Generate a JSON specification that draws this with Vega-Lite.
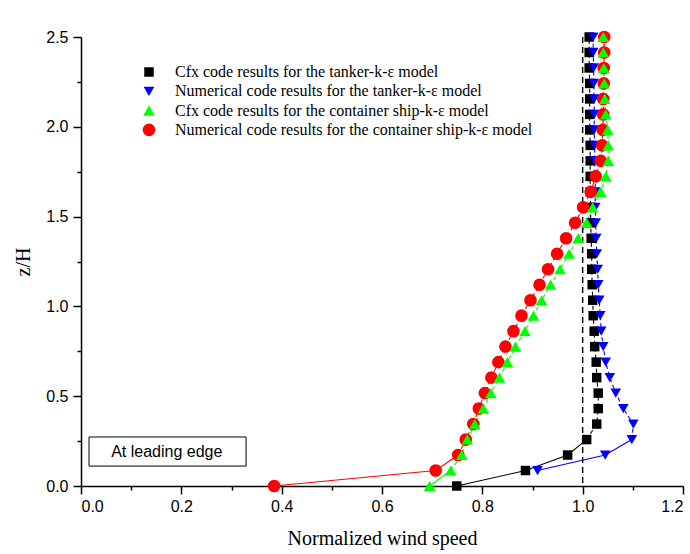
{
  "$schema": "https://vega.github.io/schema/vega-lite/v6.json",
  "width": 602,
  "height": 449,
  "autosize": {"type": "none"},
  "padding": {"left": 81, "top": 37, "right": 7, "bottom": 68},
  "background": "white",
  "config": {
    "view": {"stroke": null},
    "axis": {
      "grid": false,
      "domainColor": "black",
      "domainWidth": 1.5,
      "tickColor": "black",
      "tickWidth": 1.5,
      "labelFont": "Liberation Sans",
      "labelFontSize": 16,
      "labelColor": "black",
      "labelOverlap": false,
      "titleFont": "Liberation Serif",
      "titleFontSize": 20,
      "titleFontWeight": "normal",
      "titleColor": "black"
    }
  },
  "datasets": {
    "profiles": [
      {"series": "Cfx code results for the tanker-k-ε model", "z": 0, "speed": 0.749},
      {"series": "Cfx code results for the tanker-k-ε model", "z": 0.0862, "speed": 0.886},
      {"series": "Cfx code results for the tanker-k-ε model", "z": 0.1724, "speed": 0.970},
      {"series": "Cfx code results for the tanker-k-ε model", "z": 0.2586, "speed": 1.008},
      {"series": "Cfx code results for the tanker-k-ε model", "z": 0.3448, "speed": 1.028},
      {"series": "Cfx code results for the tanker-k-ε model", "z": 0.4310, "speed": 1.031},
      {"series": "Cfx code results for the tanker-k-ε model", "z": 0.5172, "speed": 1.031},
      {"series": "Cfx code results for the tanker-k-ε model", "z": 0.6034, "speed": 1.028},
      {"series": "Cfx code results for the tanker-k-ε model", "z": 0.6897, "speed": 1.027},
      {"series": "Cfx code results for the tanker-k-ε model", "z": 0.7759, "speed": 1.024},
      {"series": "Cfx code results for the tanker-k-ε model", "z": 0.8621, "speed": 1.023},
      {"series": "Cfx code results for the tanker-k-ε model", "z": 0.9483, "speed": 1.021},
      {"series": "Cfx code results for the tanker-k-ε model", "z": 1.0345, "speed": 1.020},
      {"series": "Cfx code results for the tanker-k-ε model", "z": 1.1207, "speed": 1.019},
      {"series": "Cfx code results for the tanker-k-ε model", "z": 1.2069, "speed": 1.018},
      {"series": "Cfx code results for the tanker-k-ε model", "z": 1.2931, "speed": 1.018},
      {"series": "Cfx code results for the tanker-k-ε model", "z": 1.3793, "speed": 1.017},
      {"series": "Cfx code results for the tanker-k-ε model", "z": 1.4655, "speed": 1.016},
      {"series": "Cfx code results for the tanker-k-ε model", "z": 1.5517, "speed": 1.016},
      {"series": "Cfx code results for the tanker-k-ε model", "z": 1.6379, "speed": 1.015},
      {"series": "Cfx code results for the tanker-k-ε model", "z": 1.7241, "speed": 1.015},
      {"series": "Cfx code results for the tanker-k-ε model", "z": 1.8103, "speed": 1.015},
      {"series": "Cfx code results for the tanker-k-ε model", "z": 1.8966, "speed": 1.015},
      {"series": "Cfx code results for the tanker-k-ε model", "z": 1.9828, "speed": 1.014},
      {"series": "Cfx code results for the tanker-k-ε model", "z": 2.0690, "speed": 1.014},
      {"series": "Cfx code results for the tanker-k-ε model", "z": 2.1552, "speed": 1.014},
      {"series": "Cfx code results for the tanker-k-ε model", "z": 2.2414, "speed": 1.014},
      {"series": "Cfx code results for the tanker-k-ε model", "z": 2.3276, "speed": 1.013},
      {"series": "Cfx code results for the tanker-k-ε model", "z": 2.4138, "speed": 1.013},
      {"series": "Cfx code results for the tanker-k-ε model", "z": 2.5, "speed": 1.013},
      {"series": "Numerical code results for the tanker-k-ε model", "z": 0.0862, "speed": 0.910},
      {"series": "Numerical code results for the tanker-k-ε model", "z": 0.1724, "speed": 1.045},
      {"series": "Numerical code results for the tanker-k-ε model", "z": 0.2586, "speed": 1.098},
      {"series": "Numerical code results for the tanker-k-ε model", "z": 0.3448, "speed": 1.101},
      {"series": "Numerical code results for the tanker-k-ε model", "z": 0.4310, "speed": 1.081},
      {"series": "Numerical code results for the tanker-k-ε model", "z": 0.5172, "speed": 1.066},
      {"series": "Numerical code results for the tanker-k-ε model", "z": 0.6034, "speed": 1.054},
      {"series": "Numerical code results for the tanker-k-ε model", "z": 0.6897, "speed": 1.046},
      {"series": "Numerical code results for the tanker-k-ε model", "z": 0.7759, "speed": 1.041},
      {"series": "Numerical code results for the tanker-k-ε model", "z": 0.8621, "speed": 1.037},
      {"series": "Numerical code results for the tanker-k-ε model", "z": 0.9483, "speed": 1.035},
      {"series": "Numerical code results for the tanker-k-ε model", "z": 1.0345, "speed": 1.033},
      {"series": "Numerical code results for the tanker-k-ε model", "z": 1.1207, "speed": 1.031},
      {"series": "Numerical code results for the tanker-k-ε model", "z": 1.2069, "speed": 1.030},
      {"series": "Numerical code results for the tanker-k-ε model", "z": 1.2931, "speed": 1.028},
      {"series": "Numerical code results for the tanker-k-ε model", "z": 1.3793, "speed": 1.027},
      {"series": "Numerical code results for the tanker-k-ε model", "z": 1.4655, "speed": 1.026},
      {"series": "Numerical code results for the tanker-k-ε model", "z": 1.5517, "speed": 1.025},
      {"series": "Numerical code results for the tanker-k-ε model", "z": 1.6379, "speed": 1.025},
      {"series": "Numerical code results for the tanker-k-ε model", "z": 1.7241, "speed": 1.025},
      {"series": "Numerical code results for the tanker-k-ε model", "z": 1.8103, "speed": 1.024},
      {"series": "Numerical code results for the tanker-k-ε model", "z": 1.8966, "speed": 1.024},
      {"series": "Numerical code results for the tanker-k-ε model", "z": 1.9828, "speed": 1.023},
      {"series": "Numerical code results for the tanker-k-ε model", "z": 2.0690, "speed": 1.023},
      {"series": "Numerical code results for the tanker-k-ε model", "z": 2.1552, "speed": 1.023},
      {"series": "Numerical code results for the tanker-k-ε model", "z": 2.2414, "speed": 1.022},
      {"series": "Numerical code results for the tanker-k-ε model", "z": 2.3276, "speed": 1.022},
      {"series": "Numerical code results for the tanker-k-ε model", "z": 2.4138, "speed": 1.021},
      {"series": "Numerical code results for the tanker-k-ε model", "z": 2.5, "speed": 1.021},
      {"series": "Numerical code results for the container ship-k-ε model", "z": 0, "speed": 0.385},
      {"series": "Numerical code results for the container ship-k-ε model", "z": 0.0862, "speed": 0.707},
      {"series": "Numerical code results for the container ship-k-ε model", "z": 0.1724, "speed": 0.752},
      {"series": "Numerical code results for the container ship-k-ε model", "z": 0.2586, "speed": 0.767},
      {"series": "Numerical code results for the container ship-k-ε model", "z": 0.3448, "speed": 0.782},
      {"series": "Numerical code results for the container ship-k-ε model", "z": 0.4310, "speed": 0.793},
      {"series": "Numerical code results for the container ship-k-ε model", "z": 0.5172, "speed": 0.805},
      {"series": "Numerical code results for the container ship-k-ε model", "z": 0.6034, "speed": 0.818},
      {"series": "Numerical code results for the container ship-k-ε model", "z": 0.6897, "speed": 0.832},
      {"series": "Numerical code results for the container ship-k-ε model", "z": 0.7759, "speed": 0.846},
      {"series": "Numerical code results for the container ship-k-ε model", "z": 0.8621, "speed": 0.862},
      {"series": "Numerical code results for the container ship-k-ε model", "z": 0.9483, "speed": 0.878},
      {"series": "Numerical code results for the container ship-k-ε model", "z": 1.0345, "speed": 0.896},
      {"series": "Numerical code results for the container ship-k-ε model", "z": 1.1207, "speed": 0.914},
      {"series": "Numerical code results for the container ship-k-ε model", "z": 1.2069, "speed": 0.931},
      {"series": "Numerical code results for the container ship-k-ε model", "z": 1.2931, "speed": 0.949},
      {"series": "Numerical code results for the container ship-k-ε model", "z": 1.3793, "speed": 0.967},
      {"series": "Numerical code results for the container ship-k-ε model", "z": 1.4655, "speed": 0.985},
      {"series": "Numerical code results for the container ship-k-ε model", "z": 1.5517, "speed": 1.001},
      {"series": "Numerical code results for the container ship-k-ε model", "z": 1.6379, "speed": 1.016},
      {"series": "Numerical code results for the container ship-k-ε model", "z": 1.7241, "speed": 1.026},
      {"series": "Numerical code results for the container ship-k-ε model", "z": 1.8103, "speed": 1.036},
      {"series": "Numerical code results for the container ship-k-ε model", "z": 1.8966, "speed": 1.039},
      {"series": "Numerical code results for the container ship-k-ε model", "z": 1.9828, "speed": 1.040},
      {"series": "Numerical code results for the container ship-k-ε model", "z": 2.0690, "speed": 1.041},
      {"series": "Numerical code results for the container ship-k-ε model", "z": 2.1552, "speed": 1.041},
      {"series": "Numerical code results for the container ship-k-ε model", "z": 2.2414, "speed": 1.042},
      {"series": "Numerical code results for the container ship-k-ε model", "z": 2.3276, "speed": 1.042},
      {"series": "Numerical code results for the container ship-k-ε model", "z": 2.4138, "speed": 1.043},
      {"series": "Numerical code results for the container ship-k-ε model", "z": 2.5, "speed": 1.043},
      {"series": "Cfx code results for the container ship-k-ε model", "z": 0, "speed": 0.695},
      {"series": "Cfx code results for the container ship-k-ε model", "z": 0.0862, "speed": 0.737},
      {"series": "Cfx code results for the container ship-k-ε model", "z": 0.1724, "speed": 0.759},
      {"series": "Cfx code results for the container ship-k-ε model", "z": 0.2586, "speed": 0.770},
      {"series": "Cfx code results for the container ship-k-ε model", "z": 0.3448, "speed": 0.785},
      {"series": "Cfx code results for the container ship-k-ε model", "z": 0.4310, "speed": 0.802},
      {"series": "Cfx code results for the container ship-k-ε model", "z": 0.5172, "speed": 0.817},
      {"series": "Cfx code results for the container ship-k-ε model", "z": 0.6034, "speed": 0.834},
      {"series": "Cfx code results for the container ship-k-ε model", "z": 0.6897, "speed": 0.850},
      {"series": "Cfx code results for the container ship-k-ε model", "z": 0.7759, "speed": 0.866},
      {"series": "Cfx code results for the container ship-k-ε model", "z": 0.8621, "speed": 0.885},
      {"series": "Cfx code results for the container ship-k-ε model", "z": 0.9483, "speed": 0.902},
      {"series": "Cfx code results for the container ship-k-ε model", "z": 1.0345, "speed": 0.918},
      {"series": "Cfx code results for the container ship-k-ε model", "z": 1.1207, "speed": 0.936},
      {"series": "Cfx code results for the container ship-k-ε model", "z": 1.2069, "speed": 0.955},
      {"series": "Cfx code results for the container ship-k-ε model", "z": 1.2931, "speed": 0.973},
      {"series": "Cfx code results for the container ship-k-ε model", "z": 1.3793, "speed": 0.991},
      {"series": "Cfx code results for the container ship-k-ε model", "z": 1.4655, "speed": 1.008},
      {"series": "Cfx code results for the container ship-k-ε model", "z": 1.5517, "speed": 1.020},
      {"series": "Cfx code results for the container ship-k-ε model", "z": 1.6379, "speed": 1.036},
      {"series": "Cfx code results for the container ship-k-ε model", "z": 1.7241, "speed": 1.046},
      {"series": "Cfx code results for the container ship-k-ε model", "z": 1.8103, "speed": 1.051},
      {"series": "Cfx code results for the container ship-k-ε model", "z": 1.8966, "speed": 1.051},
      {"series": "Cfx code results for the container ship-k-ε model", "z": 1.9828, "speed": 1.050},
      {"series": "Cfx code results for the container ship-k-ε model", "z": 2.0690, "speed": 1.046},
      {"series": "Cfx code results for the container ship-k-ε model", "z": 2.1552, "speed": 1.044},
      {"series": "Cfx code results for the container ship-k-ε model", "z": 2.2414, "speed": 1.043},
      {"series": "Cfx code results for the container ship-k-ε model", "z": 2.3276, "speed": 1.042},
      {"series": "Cfx code results for the container ship-k-ε model", "z": 2.4138, "speed": 1.041},
      {"series": "Cfx code results for the container ship-k-ε model", "z": 2.5, "speed": 1.041}
    ]
  },
  "layer": [
    {
      "data": {"name": "profiles"},
      "transform": [
        {"filter": "(indexof(datum.series, 'tanker') >= 0 && datum.z <= 0.26) || (datum.series == 'Numerical code results for the container ship-k-ε model' && datum.z <= 0.18) || (datum.series == 'Cfx code results for the container ship-k-ε model' && datum.z <= 0.09)"}
      ],
      "mark": {"type": "line", "strokeWidth": 1.1},
      "encoding": {
        "x": {"field": "speed", "type": "quantitative", "scale": {"domain": [0, 1.2], "nice": false, "zero": false},
          "axis": {
            "values": [0, 0.1, 0.2, 0.3, 0.4, 0.5, 0.6, 0.7, 0.8, 0.9, 1.0, 1.1, 1.2],
            "format": ".1f",
            "labelExpr": "abs(datum.value * 5 - round(datum.value * 5)) < 0.001 ? datum.label : ''",
            "tickSize": {"condition": {"test": "abs(datum.value * 5 - round(datum.value * 5)) < 0.001", "value": 8}, "value": 4},
            "labelPadding": 4,
            "title": "Normalized wind speed",
            "titlePadding": 14
          }},
        "y": {"field": "z", "type": "quantitative", "scale": {"domain": [0, 2.5], "nice": false, "zero": false},
          "axis": {
            "values": [0, 0.25, 0.5, 0.75, 1.0, 1.25, 1.5, 1.75, 2.0, 2.25, 2.5],
            "format": ".1f",
            "labelExpr": "abs(datum.value * 2 - round(datum.value * 2)) < 0.001 ? datum.label : ''",
            "tickSize": {"condition": {"test": "abs(datum.value * 2 - round(datum.value * 2)) < 0.001", "value": 8}, "value": 4},
            "labelPadding": 5,
            "title": "z/H",
            "titlePadding": 12
          }},
        "color": {"field": "series", "type": "nominal",
          "scale": {"domain": ["Cfx code results for the tanker-k-ε model", "Numerical code results for the tanker-k-ε model", "Cfx code results for the container ship-k-ε model", "Numerical code results for the container ship-k-ε model"], "range": ["#000000", "#0000ff", "#00ff00", "#ff0000"]}},
        "detail": {"field": "series"},
        "order": {"field": "z", "type": "quantitative"}
      }
    },
    {
      "data": {"name": "profiles"},
      "transform": [
        {"filter": "(indexof(datum.series, 'tanker') >= 0 && datum.z >= 0.25) || (datum.series == 'Numerical code results for the container ship-k-ε model' && datum.z >= 0.17) || (datum.series == 'Cfx code results for the container ship-k-ε model' && datum.z >= 0.08)"}
      ],
      "mark": {"type": "line", "strokeWidth": 1.1, "strokeDash": [4, 3]},
      "encoding": {
        "x": {"field": "speed", "type": "quantitative"},
        "y": {"field": "z", "type": "quantitative"},
        "color": {"field": "series", "type": "nominal"},
        "detail": {"field": "series"},
        "order": {"field": "z", "type": "quantitative"}
      }
    },
    {
      "data": {"values": [{}]},
      "mark": {"type": "rule", "strokeDash": [6, 4], "strokeWidth": 1.4, "color": "black"},
      "encoding": {"x": {"datum": 1.0, "type": "quantitative"}}
    },
    {
      "data": {"name": "profiles"},
      "mark": {"type": "point", "filled": true, "opacity": 1, "strokeWidth": 0},
      "encoding": {
        "x": {"field": "speed", "type": "quantitative"},
        "y": {"field": "z", "type": "quantitative"},
        "color": {"field": "series", "type": "nominal",
          "legend": {
            "orient": "none",
            "legendX": 60,
            "legendY": 27,
            "title": null,
            "padding": 0,
            "symbolSize": 100,
            "symbolStrokeWidth": 0,
            "labelFont": "Liberation Serif",
            "labelFontSize": 16,
            "labelColor": "black",
            "labelOffset": 18,
            "rowPadding": 3.3,
            "labelLimit": 500
          }},
        "shape": {"field": "series", "type": "nominal", "legend": null,
          "scale": {"domain": ["Cfx code results for the tanker-k-ε model", "Numerical code results for the tanker-k-ε model", "Cfx code results for the container ship-k-ε model", "Numerical code results for the container ship-k-ε model"], "range": ["square", "triangle-down", "triangle-up", "circle"]}},
        "size": {"field": "series", "type": "nominal", "legend": null,
          "scale": {"domain": ["Cfx code results for the tanker-k-ε model", "Numerical code results for the tanker-k-ε model", "Cfx code results for the container ship-k-ε model", "Numerical code results for the container ship-k-ε model"], "range": [90, 160, 150, 95]}}
      }
    },
    {
      "data": {"values": [{}]},
      "mark": {"type": "rect", "fill": "white", "stroke": "black", "strokeWidth": 1},
      "encoding": {
        "x": {"datum": 0.016, "type": "quantitative"},
        "x2": {"datum": 0.329},
        "y": {"datum": 0.111, "type": "quantitative"},
        "y2": {"datum": 0.273}
      }
    },
    {
      "data": {"values": [{}]},
      "mark": {"type": "text", "text": "At leading edge", "font": "Liberation Sans", "fontSize": 16, "color": "black", "align": "center", "baseline": "middle"},
      "encoding": {
        "x": {"datum": 0.171, "type": "quantitative"},
        "y": {"datum": 0.19, "type": "quantitative"}
      }
    }
  ]
}
